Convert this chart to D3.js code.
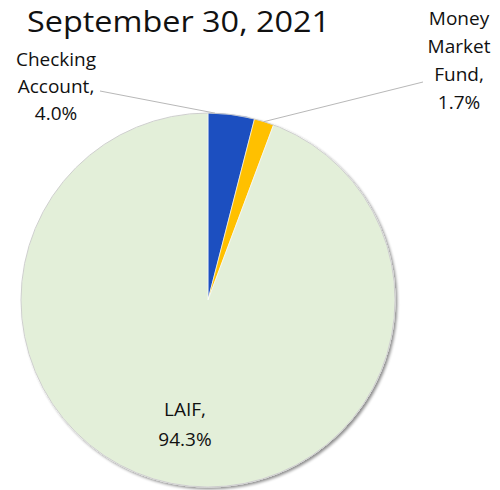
<!DOCTYPE html>
<html><head><meta charset="utf-8">
<script src="https://cdn.jsdelivr.net/npm/d3@7"></script>
<style>body{margin:0;background:#fff}svg{display:block}</style>
</head><body>
<svg id="c" width="500" height="490"></svg>
<script>
const title = "September 30, 2021";
const categories = ["Checking Account", "Money Market Fund", "LAIF"];
const values = [4.0, 1.7, 94.3];
const labelLines = [["Checking", "Account,", "4.0%"], ["Money", "Market", "Fund,", "1.7%"], ["LAIF,", "94.3%"]];
const colors = ["#1a4fc0", "#ffc000", "#e3efd9"];

const svg = d3.select("#c");
const cx = 208, cy = 300, r = 187;

const defs = svg.append("defs");
const f = defs.append("filter").attr("id", "sh").attr("x", "-10%").attr("y", "-10%").attr("width", "120%").attr("height", "120%");
f.append("feGaussianBlur").attr("in", "SourceAlpha").attr("stdDeviation", 1.5).attr("result", "b");
f.append("feOffset").attr("in", "b").attr("dx", 1.5).attr("dy", 1.5).attr("result", "o");
f.append("feComponentTransfer").attr("in", "o").attr("result", "o2").append("feFuncA").attr("type", "linear").attr("slope", 0.45);
const fm = f.append("feMerge");
fm.append("feMergeNode").attr("in", "o2");
fm.append("feMergeNode").attr("in", "SourceGraphic");

svg.append("text").attr("x", 27).attr("y", 32)
  .attr("font-family", "Open Sans, sans-serif").attr("font-size", 30).attr("fill", "#111")
  .attr("textLength", 303).attr("lengthAdjust", "spacingAndGlyphs")
  .text(title);

const pie = d3.pie().sort(null).value(d => d)(values);
const arc = d3.arc().innerRadius(0).outerRadius(r);

const g = svg.append("g").attr("transform", `translate(${cx},${cy})`);
g.append("g").attr("filter", "url(#sh)")
  .selectAll("path").data(pie).join("path")
  .attr("d", arc).attr("fill", (d, i) => colors[i])
  .attr("stroke", "#fff").attr("stroke-width", 0.6);
g.append("circle").attr("r", r).attr("fill", "none").attr("stroke", "#c4c4c4").attr("stroke-width", 0.8);

// leader lines
const lineColor = "#b8b8b8";
const leaderEnds = [[100, 91], [423, 82]];
const attachFrac = [0.15, 0.5];
[0, 1].forEach(i => {
  const a = pie[i].startAngle + (pie[i].endAngle - pie[i].startAngle) * attachFrac[i];
  const px = cx + Math.sin(a) * r, py = cy - Math.cos(a) * r;
  svg.append("line").attr("x1", leaderEnds[i][0]).attr("y1", leaderEnds[i][1])
    .attr("x2", px).attr("y2", py).attr("stroke", lineColor).attr("stroke-width", 1);
});

const labelPos = [[56, 66, 27], [459, 25, 28], [185, 416, 30]];
labelLines.forEach((lines, i) => {
  const t = svg.append("text").attr("font-family", "Open Sans, sans-serif").attr("font-size", 19)
    .attr("fill", "#111").attr("text-anchor", "middle");
  lines.forEach((s, j) => t.append("tspan").attr("x", labelPos[i][0]).attr("y", labelPos[i][1] + j * labelPos[i][2]).text(s));
});
</script>
</body></html>
